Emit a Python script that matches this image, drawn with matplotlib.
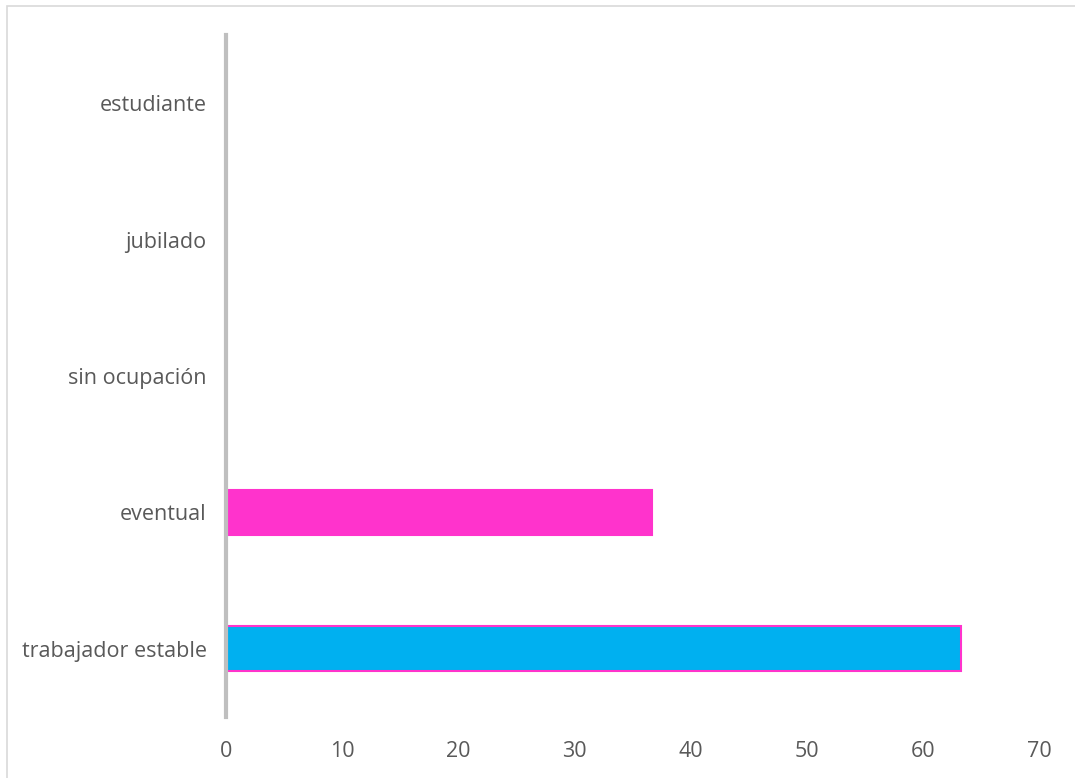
import matplotlib.pyplot as plt
from matplotlib.patches import Rectangle

categorias = ['trabajador estable', 'eventual', 'sin ocupación', 'jubilado', 'estudiante']
porcentajes = [63.3, 36.7, 0, 0, 0]
colores = ['#00B0F0', '#FF33CC', '#FF33CC', '#FF33CC', '#FF33CC']
ticks_x = [0, 10, 20, 30, 40, 50, 60, 70]

plt.rcParams['font.family'] = ['Open Sans', 'DejaVu Sans']

fig = plt.figure(figsize=(10.75, 7.78), dpi=100)
ax = fig.add_axes([0.2102, 0.0784, 0.7563, 0.8766])

ax.barh(categorias, porcentajes, height=0.33, color=colores,
        edgecolor='#FF33CC', linewidth=1.5)

ax.set_xlim(0, 70)
ax.set_ylim(-0.5, len(categorias) - 0.5)
ax.set_xticks(ticks_x)

for lado in ['top', 'right', 'bottom']:
    ax.spines[lado].set_visible(False)
ax.spines['left'].set_color('#BFBFBF')
ax.spines['left'].set_linewidth(3)

ax.tick_params(axis='both', length=0, labelsize=15.5, colors='#595959')
ax.tick_params(axis='y', pad=14)
ax.tick_params(axis='x', pad=17)

# marco gris del grafico
fig.patches.append(Rectangle((7 / 1075, -0.1), 1.2, 1 - 6 / 778 + 0.1,
                             transform=fig.transFigure, fill=False,
                             edgecolor='#D9D9D9', linewidth=1.2))

fig.savefig('out.png', dpi=100)
